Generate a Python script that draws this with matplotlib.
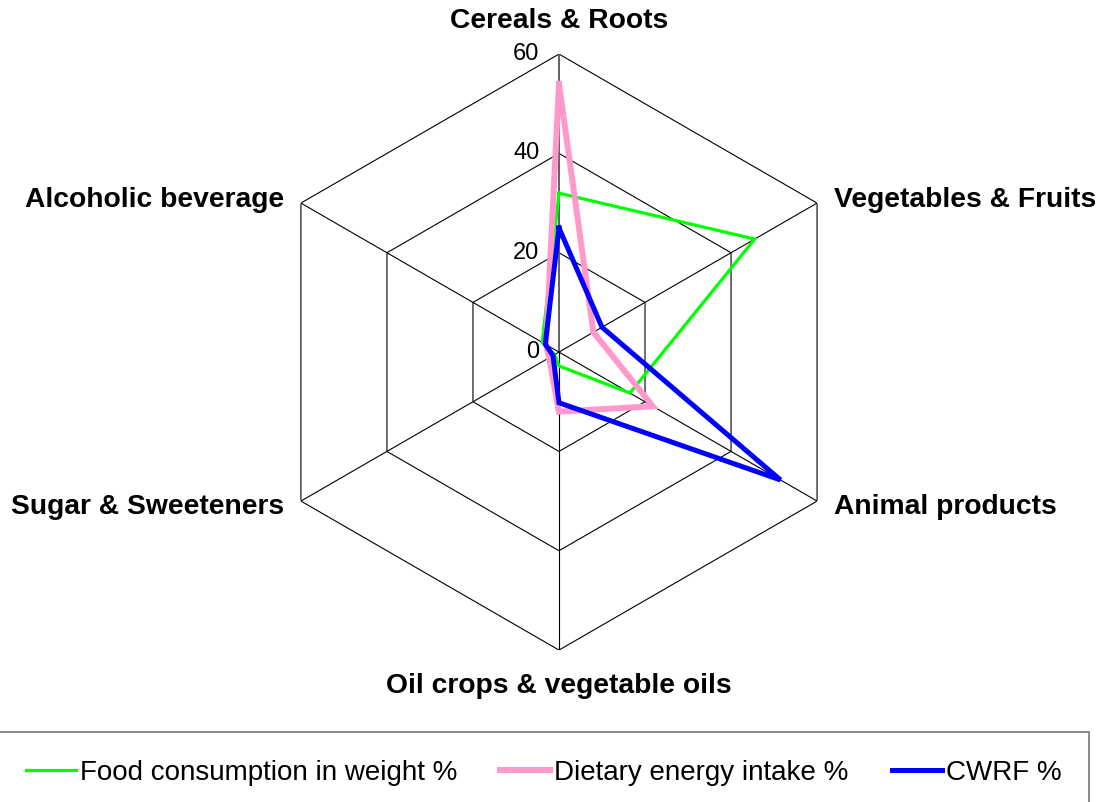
import numpy as np
import matplotlib
matplotlib.use("Agg")
import matplotlib.pyplot as plt
from matplotlib.lines import Line2D

plt.rcParams['font.family'] = ['Liberation Sans', 'DejaVu Sans']

categories = ['Cereals & Roots', 'Vegetables & Fruits', 'Animal products',
              'Oil crops & vegetable oils', 'Sugar & Sweeteners', 'Alcoholic beverage']
food_weight = [32, 45.5, 16.5, 2.8, 1.0, 3.9]
energy_intake = [54, 8, 21.8, 12, 2.3, 3.0]
cwrf = [25, 10, 51.5, 10.2, 1.4, 3.2]
ticks = [0, 20, 40, 60]

names = ['Food consumption in weight %', 'Dietary energy intake %', 'CWRF %']
colors = ['#00FF00', '#FF99CC', '#0000FF']
widths = [2.3, 4.3, 3.6]

n = len(categories)
angles = np.arange(n) * 2 * np.pi / n
closed = np.append(angles, angles[0])

fig = plt.figure(figsize=(10.98, 8.02), dpi=100)
ax = fig.add_axes([0.2377, 0.1894, 0.5428, 0.7432], projection='polar')
ax.set_theta_offset(np.pi / 2)
ax.set_theta_direction(-1)
ax.set_ylim(0, 60)
ax.grid(False)
ax.spines['polar'].set_visible(False)
ax.set_xticks([])
ax.set_yticks([])
ax.patch.set_alpha(0)

# hexagon grid
for t in ticks[1:]:
    ax.plot(closed, [t] * (n + 1), color='black', lw=0.8, zorder=1)
for i, a in enumerate(angles):
    ax.plot([a, a], [0, 60], color='#555555' if i == 0 else 'black',
            lw=1.3 if i == 0 else 0.8, zorder=1)

for t in ticks:
    ax.annotate(str(t), (0, t), xytext=(-14, 0), textcoords='offset points',
                ha='right', va='center', fontsize=17)

# series
for vals, c, w in zip([food_weight, energy_intake, cwrf], colors, widths):
    ax.plot(closed, np.append(vals, vals[0]), color=c, lw=w, zorder=3,
            solid_joinstyle='miter')

# category labels
offsets = [(0, 24, 'center', 'center'), (12, 2, 'left', 'center'),
           (12, -4, 'left', 'center'), (0, -26, 'center', 'center'),
           (-12, -4, 'right', 'center'), (-12, 2, 'right', 'center')]
for a, lab, (dx, dy, ha, va) in zip(angles, categories, offsets):
    ax.annotate(lab, (a, 60), xytext=(dx, dy), textcoords='offset points',
                ha=ha, va=va, fontsize=20.3, fontweight='bold')

handles = [Line2D([], [], color=c, lw=w) for c, w in zip(colors, widths)]
leg = fig.legend(handles, names, loc='upper left', ncol=3,
                 bbox_to_anchor=(-0.002, 0.087, 0.994, 0.0), mode='expand',
                 fontsize=20, frameon=True, fancybox=False,
                 edgecolor='#555555', handlelength=1.8, handletextpad=0.15,
                 borderpad=1.0, borderaxespad=0)
leg.get_frame().set_linewidth(1.2)

fig.savefig('out.png', dpi=100)
